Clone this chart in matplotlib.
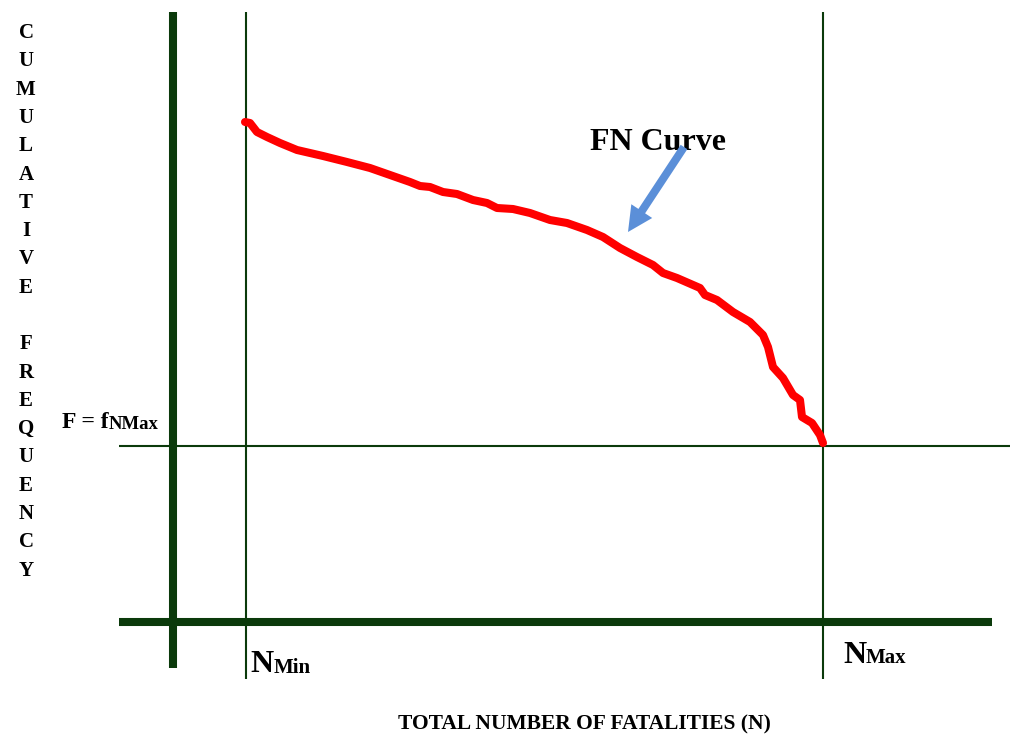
import matplotlib
matplotlib.use("Agg")
import matplotlib.pyplot as plt
from matplotlib.patches import FancyArrow

# Schematic FN curve: cumulative frequency F versus number of fatalities N,
# expressed in drawing units of the diagram (N grows to the right, F upward).
n_vals = [245, 250, 257, 267, 280, 297, 323, 347, 370, 390, 410, 420, 430,
          443, 457, 473, 487, 497, 513, 530, 550, 567, 587, 603, 620, 637,
          653, 663, 677, 700, 705, 717, 733, 750, 763, 768, 773, 783, 793,
          800, 802, 812, 820, 823]
f_vals = [122, 123, 132, 137, 143, 150, 156, 162, 168, 175, 182, 186, 187,
          192, 194, 200, 203, 208, 209, 213, 220, 223, 230, 237, 248, 257,
          265, 273, 278, 288, 295, 300, 312, 322, 335, 347, 367, 378, 395,
          400, 417, 423, 435, 443]

n_min, n_max = 246, 823
f_nmax = 446

y_letters = list("CUMULATIVE") + [""] + list("FREQUENCY")
x_title = "TOTAL NUMBER OF FATALITIES (N)"

W, H = 1010, 734
fig = plt.figure(figsize=(W / 100, H / 100), dpi=100)
ax = fig.add_axes([0, 0, 1, 1])
ax.set_xlim(0, W)
ax.set_ylim(H, 0)
ax.axis("off")

green = "#0b3a0b"
serif = "Liberation Serif"
renderer = fig.canvas.get_renderer()


def label_with_sub(x, y, main, sub, size, sub_size, sub_dy=1):
    """Bold serif label with a subscript placed right after it."""
    t = ax.text(x, y, main, fontsize=size, fontweight="bold", family=serif,
                ha="left", va="baseline")
    bb = t.get_window_extent(renderer=renderer)
    x_end = ax.transData.inverted().transform((bb.x1, bb.y0))[0]
    ax.text(x_end, y + sub_dy, sub, fontsize=sub_size, fontweight="bold",
            family=serif, ha="left", va="baseline")


# main axes (thick) and reference lines (thin)
ax.plot([173, 173], [12, 668], color=green, lw=5.8, solid_capstyle="butt")
ax.plot([119, 992], [622, 622], color=green, lw=5.8, solid_capstyle="butt")
for xv in (n_min, n_max):
    ax.plot([xv, xv], [12, 679], color=green, lw=1.5, solid_capstyle="butt")
ax.plot([119, W], [f_nmax, f_nmax], color=green, lw=1.5, solid_capstyle="butt")

# FN curve
ax.plot(n_vals, f_vals, color="#ff0000", lw=5.8, solid_capstyle="round",
        solid_joinstyle="round", zorder=5)

# pointer arrow and label
ax.add_patch(FancyArrow(684, 147, 628 - 684, 232 - 147, width=8,
                        head_width=25, head_length=25,
                        length_includes_head=True, color="#5b8fd8", lw=0,
                        zorder=6))
ax.text(590, 150, "FN Curve", fontsize=23, fontweight="bold", family=serif,
        ha="left", va="baseline")

# vertical y-axis label, one letter per line
step = 28.3
for i, ch in enumerate(y_letters):
    if ch:
        ax.text(26, 33 + i * step, ch, fontsize=15, fontweight="bold",
                family=serif, ha="center", va="center")

# F = f_NMax, N_Min, N_Max
label_with_sub(62, 428, "F = f", "NMax", 17, 13.5)
label_with_sub(250, 672, "N", "Min", 23, 15)
label_with_sub(843, 663, "N", "Max", 23, 15, sub_dy=0)

# x-axis title
ax.text(584, 729, x_title, fontsize=15.5, fontweight="bold", family=serif,
        ha="center", va="baseline")

fig.savefig("out.png", dpi=100)
